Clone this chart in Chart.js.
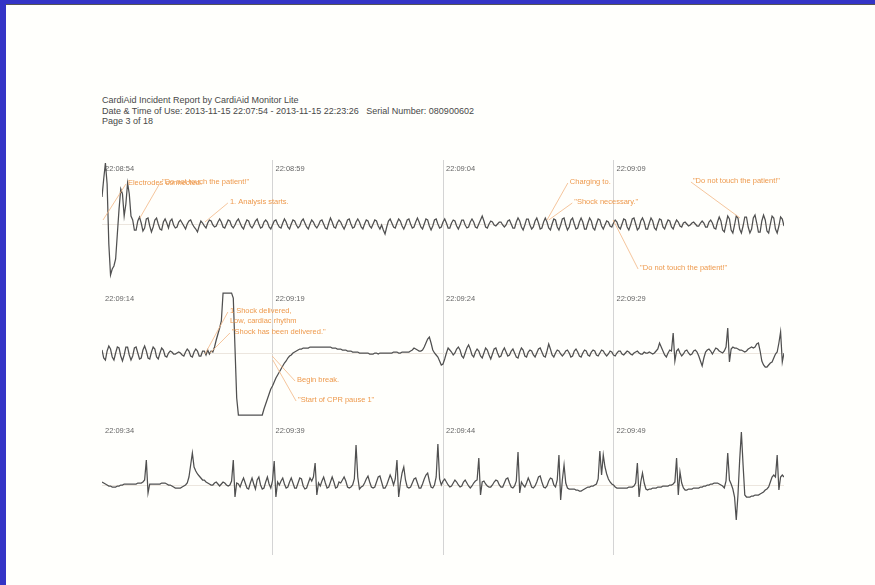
<!DOCTYPE html>
<html>
<head>
<meta charset="utf-8">
<script src="https://cdn.jsdelivr.net/npm/chart.js@4.4.1/dist/chart.umd.min.js"></script>
<style>
  html, body { margin: 0; padding: 0; }
  body { width: 875px; height: 585px; background: #fffffc; position: relative; overflow: hidden;
         font-family: "Liberation Sans", Arial, sans-serif; }
  #topbar { position: absolute; left: 0; top: 0; width: 875px; height: 4px; background: #3434c6; border-bottom: 1px solid #555; }
  #leftbar { position: absolute; left: 0; top: 0; width: 6px; height: 585px; background: #3434c6; }
  #header { position: absolute; left: 102px; top: 95px; font-size: 9px; line-height: 10.5px; color: #484848; white-space: pre; }
  .strip { position: absolute; left: 102px; width: 682px; }
</style>
</head>
<body>
<div id="topbar"></div>
<div id="leftbar"></div>
<div id="header">CardiAid Incident Report by CardiAid Monitor Lite
Date &amp; Time of Use: 2013-11-15 22:07:54 - 2013-11-15 22:23:26   Serial Number: 080900602
Page 3 of 18</div>
<div class="strip" style="top:160px;height:130px"><canvas id="strip1"></canvas></div>
<div class="strip" style="top:290px;height:132px"><canvas id="strip2"></canvas></div>
<div class="strip" style="top:422px;height:133px"><canvas id="strip3"></canvas></div>
<script>
// one sample every 0.05 s, 20 s per strip, one row = one second
const sampleStep = 0.05;

const strip1Values = [
  27, 45, 61, 40, -20, -51, -45, -42, -35, -10, 15, 35, 30, 8, 20, 41, 30, 8, 4, -6,
  -6, 3, 7, 1, -7, -4, 5, 6, -2, -8, -3, 4, 6, 0, -5, -6, 2, 5, 1, -4,
  3, 5, -1, -4, -3, 2, 4, 1, -2, -5, 0, 3, 4, 0, -3, -5, -8, -2, 3, 1,
  -2, -4, 1, 4, 3, -1, -3, -2, 2, 5, 2, -3, -4, 0, 4, 3, -2, -4, -1, 3,
  5, 1, -3, -5, 0, 4, 3, -2, -4, -1, 3, 5, 0, -4, -3, 2, 4, 2, -3, -5,
  -1, 3, 4, 0, -3, -4, 1, 5, 2, -3, -5, 0, 4, 3, -1, -4, -2, 3, 5, 1,
  -3, -5, 0, 4, 2, -2, -4, -1, 3, 4, 0, -4, -5, 1, 6, 2, -3, -4, 1, 4,
  2, -2, -5, -1, 4, 5, 0, -4, -3, 2, 5, 2, -3, -5, 0, 4, 3, -2, -4, 0,
  4, 3, -2, -5, -1, -6, -10, -3, 3, 5, 1, -3, -4, 1, 5, 3, -2, -5, -1, 4,
  5, 0, -4, -3, 2, 6, 2, -3, -5, 0, 5, 4, -2, -6, -2, 4, 5, 0, -4, -3,
  2, 5, 1, -4, -4, 1, 4, 3, -2, -5, -1, 4, 4, -1, -4, -3, 2, 5, 2, -3,
  -4, 0, 4, 8, 3, -3, -4, 0, 3, 2, -1, -2, 0, 2, 2, -1, -3, -1, 3, 4,
  0, -4, -4, 2, 6, 3, -3, -6, -1, 5, 5, -1, -5, -3, 3, 6, 1, -5, -4, 2,
  6, 2, -4, -6, 0, 5, 4, -3, -6, -1, 5, 6, -1, -6, -3, 4, 6, 0, -5, -4,
  2, 6, 2, -5, -5, 1, 6, 3, -4, -6, 0, 5, 4, -2, -5, -1, 3, 2, -2, -3,
  1, 4, 2, -3, -5, 0, 5, 4, -3, -6, -1, 5, 6, 0, -6, -4, 3, 6, 2, -5,
  -5, 1, 6, 3, -4, -6, 0, 5, 4, -3, -5, 0, 4, 3, -3, -5, 0, 4, 2, -2,
  -3, 1, 2, 0, -2, -1, 1, 2, 0, -2, -2, 1, 3, 1, -3, -3, 2, 4, 1, -4,
  -5, 2, 7, 3, -6, -8, 0, 8, 5, -6, -9, -1, 8, 6, -5, -9, -2, 7, 7, -3,
  -9, -5, 6, 9, 1, -8, -8, 3, 9, 4, -7, -9, 0, 8, 6, -5, -9, -2, 7, 5,
  -2
];

const strip2Values = [
  3, -5, -7, 2, 7, 4, -4, -7, 0, 6, 5, -3, -8, -2, 6, 6, -2, -7, -3, 5,
  6, 0, -6, -5, 3, 7, 2, -5, -6, 1, 6, 4, -4, -6, 0, 5, 3, -3, -4, 0,
  2, 1, -1, -1, 0, 1, 0, -2, -3, 1, 4, 2, -3, -4, 1, 4, 2, -3, -3, 2,
  2, -2, 3, -1, 2, 1, 6, 13, 19, 25, 32, 60, 60, 60, 60, 60, 60, 55, 5, -45,
  -62, -62, -62, -62, -62, -62, -62, -62, -62, -62, -62, -62, -62, -62, -62, -56, -51, -46, -41, -36,
  -33, -29, -25, -22, -19, -16, -13, -10, -8, -5, -3, -2, 0, 1, 2, 3, 4, 4, 5, 5,
  5, 5, 6, 6, 6, 6, 6, 6, 6, 6, 6, 6, 6, 6, 6, 5, 5, 5, 4, 4,
  4, 3, 3, 3, 2, 2, 2, 1, 1, 1, 1, 0, 0, 0, 0, 0, 0, -1, -1, -1,
  0, 0, -1, 0, 0, 0, 0, 0, 0, 0, 0, 1, 1, 1, 0, 0, 1, 1, 1, 1,
  1, 2, 3, 5, 4, 3, 2, 2, 3, 6, 10, 14, 16, 10, 3, 0, -2, -4, -8, -12,
  -11, -6, 0, 5, 3, 1, -2, 0, 4, 6, 3, -3, -5, 0, 5, 8, 4, -2, -4, 1,
  4, 2, -3, -5, 0, 5, 3, -2, -6, -1, 4, 5, 0, -4, -3, 2, 5, 1, -3, -2,
  2, 4, 0, -4, -5, 1, 5, 3, -3, -4, 1, 3, 2, -2, -4, 0, 4, 5, 1, -3,
  -4, 2, 9, 4, -2, -4, 0, 3, 2, -1, -3, -1, 2, 3, 0, -4, -3, 2, 4, 1,
  -3, -4, 0, 3, 2, -2, -3, 1, 3, 2, -2, -3, 0, 3, 2, -1, -3, -1, 2, 1,
  -2, -3, 0, 2, 2, -1, -2, 0, 2, 1, -1, -2, 0, 1, 2, 0, -1, -1, 1, 0,
  0, 1, 0, -1, 0, 2, 4, 10, 6, 2, -2, -4, 0, 3, 2, 20, -8, 2, 4, 0,
  -3, -1, 2, 3, 0, -2, -1, 2, 3, 1, -3, -8, -13, -5, 1, 3, 4, 2, -1, 2,
  5, 4, 2, 1, 0, 2, 6, 25, -9, 4, 6, 5, 5, 4, 3, 3, 2, 1, 2, 4,
  5, 6, 5, 6, 9, 10, 2, -8, -12, -14, -14, -12, -10, -9, -5, -1, 1, 10, 21, -9,
  0
];

const strip3Values = [
  3, 2, 1, 0, -1, -1, -2, -2, -2, -1, -1, 0, 0, 1, 1, 1, 1, 1, 1, 1,
  1, 2, 2, 2, 3, 5, 25, -8, 1, 1, 1, 1, 1, 1, 1, 2, 2, 2, 1, 0,
  0, -1, -2, -3, -3, -3, -3, -2, -1, 0, 2, 8, 20, 32, 18, 14, 11, 9, 7, 5,
  5, 3, 2, 1, 0, 0, 2, 3, 1, -1, 1, 3, 2, 0, -1, 0, 4, 25, -12, 2,
  1, -2, 3, 7, 2, -3, -4, 2, 7, 1, -4, 5, 8, 0, -4, -3, 3, 8, 1, -3,
  4, 24, -12, 3, 0, 4, 7, 1, -3, -2, 3, 7, 2, -3, -3, 2, 7, 6, -1, -4,
  -3, 2, 7, 4, 8, 22, -10, 2, -1, 4, 8, 2, -3, -2, 3, 8, 3, -3, -2, 3,
  2, 5, 8, 4, -2, -3, -2, 0, 6, 40, 8, -4, -2, -1, 2, 6, 9, 3, -2, -3,
  -2, 3, 8, 9, 3, -3, -3, 0, 5, 10, 6, 0, 6, 25, -12, 2, 12, 18, 5, -2,
  -3, -2, 2, 6, 7, 2, -3, -3, 1, 6, 10, 12, 4, -2, -3, 0, 8, 41, 6, 0,
  4, 6, 3, 0, -2, -1, 2, 5, 3, 0, -2, -1, 3, 5, 2, -1, -3, -1, 2, 4,
  5, 27, -10, 3, 4, 1, -1, -2, -2, 0, 3, 5, 4, 0, -2, -2, 2, 6, 7, 2,
  -2, -3, -1, 4, 33, -8, 3, 0, -2, 2, 7, 3, -2, -3, -1, 3, 8, 9, 3, -2,
  -3, -1, 4, 7, 6, 0, -2, 5, 30, -15, 5, 20, 2, -3, -4, -4, -4, -4, -5, -5,
  -6, -6, -5, -4, -3, -2, -2, -1, -1, 0, 1, 6, 34, 10, 30, 18, 11, 6, 3, 1,
  0, -2, -3, -3, -3, -3, -3, -3, -3, -2, -2, -2, -1, 2, 22, -12, 3, 12, 2, -4,
  -5, -4, -4, -3, -3, -3, -2, -2, -2, -1, -1, -1, -1, 0, 0, 1, 3, 27, -10, 13,
  2, -3, -5, -5, -4, -4, -4, -3, -3, -3, -3, -2, -2, -1, -1, 0, 0, 1, 1, 2,
  2, 2, 1, 0, -1, -3, 4, 32, 5, 1, -4, -12, -35, -10, 25, 53, 20, -10, -12, -12,
  -12, -11, -11, -10, -10, -10, -9, -8, -7, -5, -4, -2, 3, 8, 10, 8, 30, -5, 8, 10,
  8
];

const strip1Ticks = ['22:08:54', '22:08:59', '22:09:04', '22:09:09'];
const strip2Ticks = ['22:09:14', '22:09:19', '22:09:24', '22:09:29'];
const strip3Ticks = ['22:09:34', '22:09:39', '22:09:44', '22:09:49'];

// event notes: text position (seconds, value) and the trace point its leader line goes to
const strip1Notes = [
  { text: 'Electrodes connected.', tx: 0.76, ty: 41, at: [0.03, 4] },
  { text: '"Do not touch the patient!"', tx: 1.76, ty: 42, at: [1.11, 6] },
  { text: '1. Analysis starts.', tx: 3.75, ty: 22, at: [3.02, 2] },
  { text: 'Charging to.', tx: 13.72, ty: 42, at: [13.05, 4] },
  { text: '"Shock necessary."', tx: 13.85, ty: 22, at: [13.1, 4] },
  { text: '"Do not touch the patient!"', tx: 17.33, ty: 43, at: [18.71, 6] },
  { text: '"Do not touch the patient!"', tx: 15.78, ty: -44, at: [14.99, 4] }
];
const strip2Notes = [
  { text: '1 Shock delivered,', tx: 3.75, ty: 42, at: [3.02, -1] },
  { text: 'Low, cardiac rhythm', tx: 3.75, ty: 32 },
  { text: '"Shock has been delivered."', tx: 3.81, ty: 21, at: [3.17, 0] },
  { text: 'Begin break.', tx: 5.72, ty: -27, at: [4.99, -3] },
  { text: '"Start of CPR pause 1"', tx: 5.75, ty: -47, at: [5.01, -7] }
];
const strip3Notes = [];

const stripDecor = {
  id: 'stripDecor',
  beforeDatasetsDraw(chart, args, opts) {
    const { ctx, chartArea, scales: { x } } = chart;
    ctx.save();
    ctx.font = '7.5px "Liberation Sans", Arial, sans-serif';
    ctx.fillStyle = '#666';
    ctx.textBaseline = 'middle';
    opts.ticks.forEach((lbl, i) => ctx.fillText(lbl, x.getPixelForValue(i * 5) + 3, chartArea.top + 9));
    ctx.restore();
  },
  afterDatasetsDraw(chart, args, opts) {
    const { ctx, scales: { x, y } } = chart;
    ctx.save();
    ctx.font = '7.5px "Liberation Sans", Arial, sans-serif';
    ctx.textBaseline = 'middle';
    opts.notes.forEach(n => {
      const px = x.getPixelForValue(n.tx), py = y.getPixelForValue(n.ty);
      if (n.at) {
        ctx.strokeStyle = '#f3b684';
        ctx.lineWidth = 0.8;
        ctx.beginPath();
        ctx.moveTo(x.getPixelForValue(n.at[0]), y.getPixelForValue(n.at[1]));
        ctx.lineTo(px - 2, py + 1);
        ctx.stroke();
      }
      ctx.fillStyle = '#ee9a4e';
      ctx.fillText(n.text, px, py);
    });
    ctx.restore();
  }
};

function makeStrip(id, values, ticks, notes, yMin, yMax) {
  return new Chart(document.getElementById(id), {
    type: 'line',
    data: {
      datasets: [{
        data: values.map((v, i) => ({ x: i * sampleStep, y: v })),
        borderColor: '#505050',
        borderWidth: 1.25,
        pointRadius: 0,
        tension: 0,
        fill: false
      }]
    },
    options: {
      responsive: true,
      maintainAspectRatio: false,
      animation: false,
      events: [],
      layout: { padding: 0 },
      scales: {
        x: {
          type: 'linear', min: 0, max: 20,
          ticks: { display: false, stepSize: 5 },
          grid: {
            drawTicks: false,
            color: c => (c.tick.value > 0 && c.tick.value < 20) ? '#d4d4d4' : 'rgba(0,0,0,0)'
          },
          border: { display: false }
        },
        y: {
          min: yMin, max: yMax,
          ticks: { display: false },
          afterBuildTicks: s => { s.ticks = [{ value: 0 }]; },
          grid: { drawTicks: false, color: '#ece6de' },
          border: { display: false }
        }
      },
      plugins: {
        legend: { display: false },
        tooltip: { enabled: false },
        stripDecor: { ticks: ticks, notes: notes }
      }
    },
    plugins: [stripDecor]
  });
}

makeStrip('strip1', strip1Values, strip1Ticks, strip1Notes, -66, 64);
makeStrip('strip2', strip2Values, strip2Ticks, strip2Notes, -69, 63);
makeStrip('strip3', strip3Values, strip3Ticks, strip3Notes, -70, 63);
</script>
</body>
</html>
